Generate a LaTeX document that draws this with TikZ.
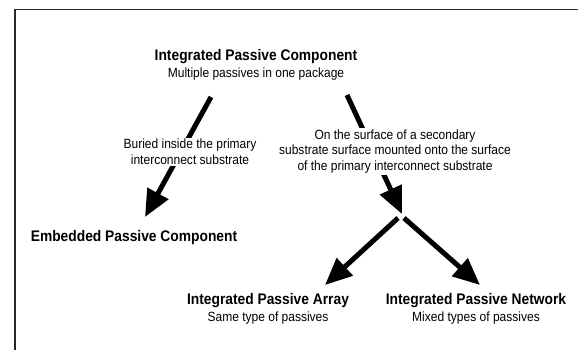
\documentclass[tikz,border=0pt]{standalone}
\usepackage{fontspec}
\setmainfont[FakeStretch=0.9]{Liberation Sans}
\usetikzlibrary{arrows.meta}

\begin{document}
\begin{tikzpicture}[x=1bp,y=-1bp,
    title_font/.style={font=\fontsize{15.4}{17}\selectfont\bfseries},
    item_node/.style={align=center,inner sep=0pt,text=black,font=\fontsize{13.4}{16.5}\selectfont},
    label_node/.style={align=center,inner sep=1.5pt,fill=white,text=black,font=\fontsize{13.4}{15.8}\selectfont},
    big_arrow/.style={black,line width=5bp,-{Triangle[length=27bp,width=23bp]}},
    frame_line/.style={black!85,line width=1.5bp}]
  \useasboundingbox (0,0) rectangle (578,350);
  \draw[frame_line] (15.00,350.00) -- (15.00,9.50) -- (578.00,9.50);
\node[item_node] (ipc) at (256.00,65.00) {{\fontsize{15.4}{17}\selectfont\bfseries Integrated Passive Component}\\Multiple passives in one package};
\node[item_node,title_font] (epc) at (134.00,238.00) {Embedded Passive Component};
\node[item_node] (ipa) at (268.00,309.00) {{\fontsize{15.4}{17}\selectfont\bfseries Integrated Passive Array}\\Same type of passives};
\node[item_node] (ipn) at (476.00,309.00) {{\fontsize{15.4}{17}\selectfont\bfseries Integrated Passive Network}\\Mixed types of passives};
\coordinate (ipc_left) at (211.00,97.00);
\coordinate (ipc_right) at (347.00,95.00);
\coordinate (epc_tip) at (145.00,217.00);
\coordinate (split_in) at (402.00,214.00);
\coordinate (split_l) at (398.00,218.00);
\coordinate (split_r) at (404.00,218.00);
\coordinate (ipa_tip) at (325.00,285.00);
\coordinate (ipn_tip) at (480.00,285.00);
\draw[big_arrow] (ipc_left) -- (epc_tip);
\draw[big_arrow] (ipc_right) -- (split_in);
\draw[big_arrow] (split_l) -- (ipa_tip);
\draw[big_arrow] (split_r) -- (ipn_tip);
\node[label_node] (buried) at (190.00,152.00) {Buried inside the primary\\interconnect substrate};
\node[label_node] (surface) at (395.00,151.50) {On the surface of a secondary\\substrate surface mounted onto the surface\\of the primary interconnect substrate};
\end{tikzpicture}
\end{document}
